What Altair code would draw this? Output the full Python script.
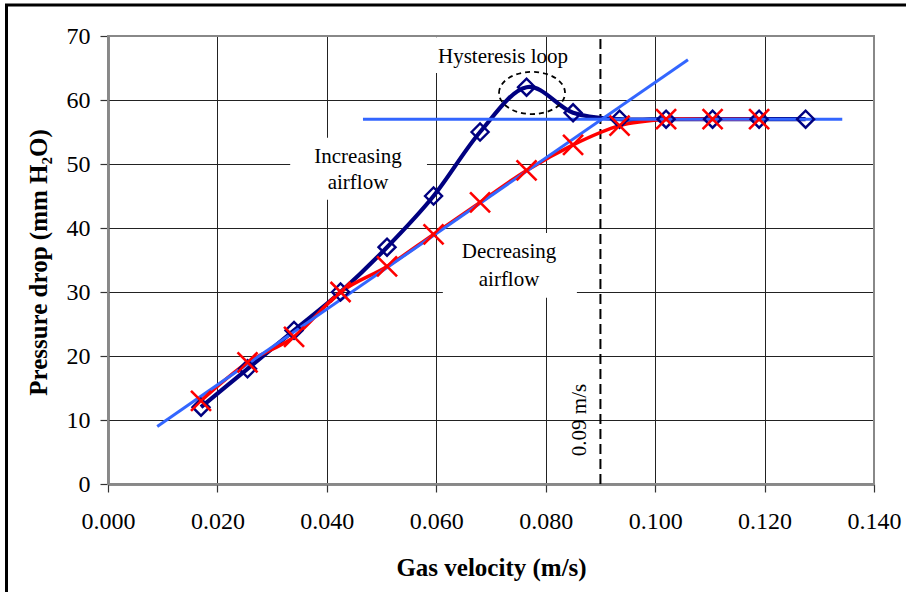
import altair as alt
import pandas as pd

# Superficial gas velocity (m/s) at each measurement step
velocity = [0.017, 0.0255, 0.034, 0.0425, 0.051, 0.0595, 0.068,
            0.0765, 0.085, 0.0935, 0.102, 0.1105, 0.119, 0.1275]
# Pressure drop (mm H2O) while the airflow is being increased
dp_increasing = [12, 18, 24, 30, 37, 45, 55, 62, 58, 57, 57, 57, 57, 57]
# Pressure drop (mm H2O) while the airflow is being decreased
velocity_decreasing = velocity[:13]
dp_decreasing = [13, 19, 23, 30, 34, 39, 44, 49, 53, 56, 57, 57, 57]

# Straight-line fits: fixed-bed slope and fluidised plateau
slope_x = [0.009, 0.106]
slope_y = [9.0, 66.3]
plateau_x = [0.0466, 0.1342]
plateau_y = [57, 57]
min_fluid_velocity = 0.09

x_ticks = [0.0, 0.02, 0.04, 0.06, 0.08, 0.10, 0.12, 0.14]
y_ticks = [0, 10, 20, 30, 40, 50, 60, 70]

SERIF = "Liberation Serif, Times New Roman, serif"
NAVY = "#000080"
RED = "#FF0000"
FIT_BLUE = "#3366FF"

x_scale = alt.Scale(domain=[0, 0.14], nice=False, zero=False)
y_scale = alt.Scale(domain=[0, 70], nice=False, zero=False)

x_axis = alt.Axis(values=x_ticks, format=".3f", title="Gas velocity (m/s)",
                  titleY=91, titleBaseline="alphabetic",
                  labelPadding=17, tickSize=8, labelFlush=False)
y_axis = alt.Axis(values=y_ticks, format="d", title="Pressure drop (mm H\u2082O)",
                  titleX=-62, titleY=226, titleBaseline="alphabetic",
                  labelPadding=10, tickSize=8, labelFlush=False)


def X(field="v"):
    return alt.X(f"{field}:Q", scale=x_scale, axis=x_axis)


def Y(field="dp"):
    return alt.Y(f"{field}:Q", scale=y_scale, axis=y_axis)


inc = pd.DataFrame({"v": velocity, "dp": dp_increasing})
dec = pd.DataFrame({"v": velocity_decreasing, "dp": dp_decreasing})
slope = pd.DataFrame({"v": slope_x, "dp": slope_y})
plateau = pd.DataFrame({"v": plateau_x, "dp": plateau_y})

# White label panels that sit over the grid
panels = pd.DataFrame({
    "v": [0.0592, 0.0333, 0.0612],
    "v2": [0.0791, 0.0583, 0.0857],
    "dp": [69.8, 54.1, 39.2],
    "dp2": [64.2, 44.4, 29.1],
})
panel_layer = alt.Chart(panels).mark_rect(fill="white", stroke=None).encode(
    x=X(), x2="v2:Q", y=Y(), y2="dp2:Q")

inc_line = alt.Chart(inc).mark_line(color=NAVY, strokeWidth=4.2,
                                    interpolate="cardinal").encode(x=X(), y=Y())
dec_line = alt.Chart(dec).mark_line(color=RED, strokeWidth=3.5,
                                    interpolate="cardinal").encode(x=X(), y=Y())
slope_line = alt.Chart(slope).mark_line(color=FIT_BLUE, strokeWidth=3).encode(x=X(), y=Y())
plateau_line = alt.Chart(plateau).mark_line(color=FIT_BLUE, strokeWidth=3).encode(x=X(), y=Y())

inc_pts = alt.Chart(inc).mark_point(shape="diamond", filled=False, color=NAVY,
                                    strokeWidth=2.4, size=290, opacity=1).encode(x=X(), y=Y())
dec_pts = alt.Chart(dec).mark_point(shape="M-1,-1L1,1M-1,1L1,-1", filled=False,
                                    color=RED, strokeWidth=2.6, size=400,
                                    opacity=1).encode(x=X(), y=Y())

# Dashed marker of the minimum fluidisation velocity
vline = alt.Chart(pd.DataFrame({"v": [min_fluid_velocity], "dp": [0], "dp2": [70]})).mark_rule(
    color="black", strokeWidth=2, strokeDash=[10, 5]).encode(x=X(), y=Y(), y2="dp2:Q")

# Dashed ellipse around the pressure overshoot
loop = alt.Chart(pd.DataFrame({"v": [0.0775], "dp": [61.1]})).mark_point(
    shape="M-1,0A1,0.64,0,1,1,1,0A1,0.64,0,1,1,-1,0Z", filled=False,
    color="black", strokeWidth=1.8, strokeDash=[5, 4], size=4356,
    opacity=1).encode(x=X(), y=Y())

labels = pd.DataFrame({
    "v": [0.0722, 0.0457, 0.0457, 0.0733, 0.0733],
    "dp": [66.7, 51.1, 47.0, 36.25, 31.9],
    "txt": ["Hysteresis loop", "Increasing", "airflow", "Decreasing", "airflow"],
})
label_layer = alt.Chart(labels).mark_text(font=SERIF, fontSize=21, color="black",
                                          align="center", baseline="middle").encode(
    x=X(), y=Y(), text="txt:N")

vlabel = alt.Chart(pd.DataFrame({"v": [0.0863], "dp": [10.0], "txt": ["0.09 m/s"]})).mark_text(
    font=SERIF, fontSize=21, color="black", angle=270, align="center",
    baseline="middle").encode(x=X(), y=Y(), text="txt:N")

# Grey frame of the plot area
frame = alt.Chart(pd.DataFrame({"a": [0]})).mark_rect(
    filled=False, stroke="#888888", strokeWidth=2).encode(
    x=alt.datum(0, scale=x_scale), x2=alt.datum(0.14),
    y=alt.datum(0, scale=y_scale), y2=alt.datum(70))

# Outer border of the figure (left and top edges)
one = pd.DataFrame({"a": [0]})
border_left = alt.Chart(one).mark_rule(color="black", strokeWidth=3).encode(
    x=alt.value(-101.5), y=alt.value(-31), y2=alt.value(560))
border_top = alt.Chart(one).mark_rule(color="black", strokeWidth=3).encode(
    x=alt.value(-103), x2=alt.value(800), y=alt.value(-31))

chart = alt.layer(
    panel_layer, frame, vline, inc_line, dec_line, slope_line, plateau_line,
    inc_pts, dec_pts, loop, label_layer, vlabel, border_left, border_top,
).properties(
    width=766, height=448,
    autosize=alt.AutoSizeParams(type="none"),
    padding={"left": 108, "top": 36, "right": 32, "bottom": 108},
    background="white",
).configure_view(
    stroke=None,
).configure_axis(
    labelFont=SERIF, labelFontSize=24, labelColor="black",
    titleFont=SERIF, titleFontSize=25, titleFontWeight="bold", titleColor="black",
    grid=True, gridColor="#222222", gridWidth=1,
    tickColor="#333333", tickWidth=1.2,
    domainColor="#666666", domainWidth=2.5,
)

chart.save("out.html", embed_options={"renderer": "svg", "actions": False})
